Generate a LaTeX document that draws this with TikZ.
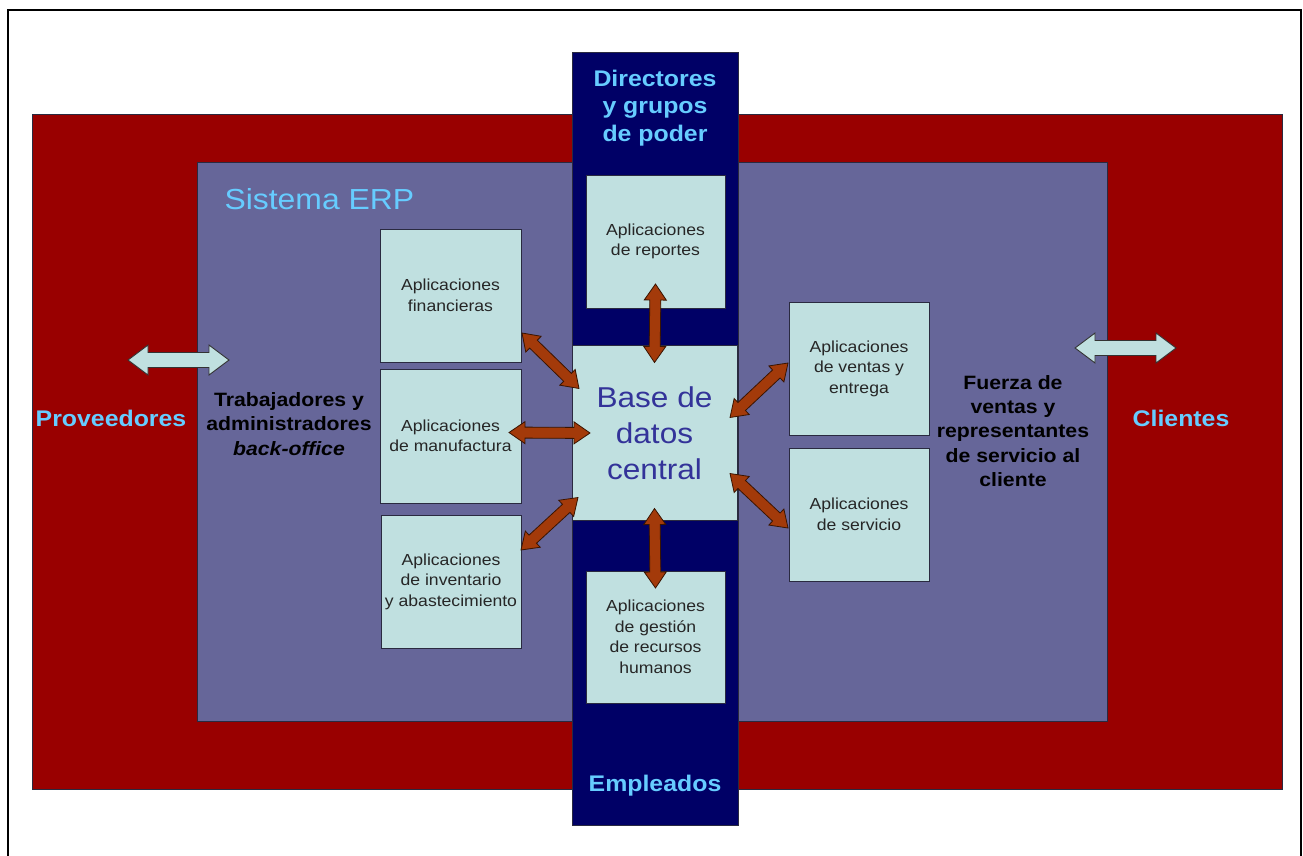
\documentclass[tikz,border=0pt]{standalone}
\usepackage{fontspec}
\newfontfamily\diagfont[FakeStretch=1.1]{Liberation Sans}
\usetikzlibrary{calc}

\definecolor{outerred}{HTML}{990000}
\definecolor{erpviolet}{HTML}{666699}
\definecolor{colnavy}{HTML}{000066}
\definecolor{appcyan}{HTML}{C0E0E0}
\definecolor{labelblue}{HTML}{66CCFF}
\definecolor{dbblue}{HTML}{333399}
\definecolor{arrowbrown}{HTML}{A33A0A}
\definecolor{arrowedge}{HTML}{3A1400}
\definecolor{boxedge}{HTML}{2A2A40}

% double-headed block arrow from #2 to #3; #4 half shaft, #5 half head, #6 head length
\newcommand\dblarrow[6]{%
  \path (#2); \pgfgetlastxy{\dax}{\day}%
  \path (#3); \pgfgetlastxy{\dbx}{\dby}%
  \pgfmathsetmacro\dang{atan2(\dby-\day,\dbx-\dax)}%
  \pgfmathsetmacro\dlen{veclen(\dbx-\dax,\dby-\day)}%
  \draw[#1, shift={(\dax,\day)}, rotate=\dang]
    (0,0) -- (#6,#5) -- (#6,#4) -- ({\dlen-#6},#4) -- ({\dlen-#6},#5)
    -- (\dlen,0) -- ({\dlen-#6},-#5) -- ({\dlen-#6},-#4) -- (#6,-#4)
    -- (#6,-#5) -- cycle;%
}

\tikzset{
  panel/.style={draw=boxedge, line width=0.8pt, inner sep=0pt, outer sep=0pt},
  appbox/.style={panel, fill=appcyan, minimum width=140pt, minimum height=133pt,
    align=center, text=black!85, font=\diagfont\fontsize{16}{20.5}\selectfont},
  grouplabel/.style={text=labelblue, align=center,
    font=\diagfont\bfseries\fontsize{22.6}{27.5}\selectfont},
  rolelabel/.style={text=black, align=center,
    font=\diagfont\bfseries\fontsize{19.3}{24.3}\selectfont},
  linkarrow/.style={fill=arrowbrown, draw=arrowedge, line width=0.8pt, line join=miter},
  outarrow/.style={fill=appcyan, draw=black!80, line width=0.9pt, line join=miter},
}

\begin{document}
\begin{tikzpicture}[x=1pt, y=-1pt]
\useasboundingbox (0,0) rectangle (1303,856);
\fill[white] (0,0) rectangle (1303,856);
% page frame
\draw[black, line width=1.2pt] (8,856) -- (8,10) -- (1301,10) -- (1301,856);

% nested areas
\node[panel, fill=outerred, minimum width=1250pt, minimum height=675pt] (outer) at (657,451.5) {};
\node[panel, fill=erpviolet, minimum width=910pt, minimum height=559pt] (erp) at (652,441.5) {};
\node[panel, fill=colnavy, minimum width=166pt, minimum height=773pt] (column) at (655,438.5) {};

\node[anchor=west, text=labelblue, font=\diagfont\fontsize{29}{33}\selectfont] (erptitle) at (221,199) {Sistema ERP};

% application boxes
\node[appbox, minimum width=139pt] (rep) at (655.5,241.5) {Aplicaciones\\de reportes};
\node[appbox, minimum width=141pt] (fin) at (450.5,295.5) {Aplicaciones\\financieras};
\node[appbox, minimum width=141pt, minimum height=134pt] (man) at (450.5,436) {Aplicaciones\\de manufactura};
\node[appbox] (inv) at (451,581.5) {Aplicaciones\\de inventario\\y abastecimiento};
\node[appbox, minimum width=139pt, minimum height=132pt] (rrhh) at (655.5,637) {Aplicaciones\\de gestión\\de recursos\\humanos};
\node[appbox] (ven) at (859,368.5) {Aplicaciones\\de ventas y\\entrega};
\node[appbox] (ser) at (859,514.5) {Aplicaciones\\de servicio};

\node[panel, fill=appcyan, minimum width=165pt, minimum height=175pt, align=center,
  text=dbblue, font=\diagfont\fontsize{28.7}{36}\selectfont] (base) at (654.5,433)
  {Base de\\datos\\central};

% group and role labels
\node[grouplabel] (dir) at (655,108) {Directores\\y grupos\\de poder};
\node[grouplabel] (emp) at (655,786) {Empleados};
\node[grouplabel] (prov) at (111,418) {Proveedores};
\node[grouplabel] (cli) at (1181,418) {Clientes};
\node[rolelabel] (back) at (289,424) {Trabajadores y\\administradores\\\textit{back-office}};
\node[rolelabel] (front) at (1013,431) {Fuerza de\\ventas y\\representantes\\de servicio al\\cliente};

% links between the applications and the central database
\dblarrow{linkarrow}{[yshift=24pt]rep.south}{[yshift=-17pt]base.north}{5.5}{11}{16}
\dblarrow{linkarrow}{[yshift=12pt]base.south}{[yshift=-17pt]rrhh.north}{5.5}{11}{16}
\dblarrow{linkarrow}{[shift={(1pt,29pt)}]fin.south east}{[shift={(7pt,-43pt)}]base.north west}{5.5}{11}{16}
\dblarrow{linkarrow}{[shift={(-12pt,3.5pt)}]man.east}{[xshift=18pt]base.west}{5.5}{11}{16}
\dblarrow{linkarrow}{[yshift=-35pt]inv.north east}{[shift={(6pt,23pt)}]base.south west}{5.5}{11}{16}
\dblarrow{linkarrow}{[shift={(-1pt,5.5pt)}]ven.west}{[shift={(-7pt,15.5pt)}]base.east}{5.5}{11}{16}
\dblarrow{linkarrow}{[shift={(-1pt,-13.5pt)}]ser.west}{[shift={(-7pt,-40.5pt)}]base.east}{5.5}{11}{16}

% exchanges with suppliers and customers
\coordinate (provL) at (128,360);
\coordinate (provR) at (229,360);
\coordinate (cliL) at (1075,348);
\coordinate (cliR) at (1176,348);
\dblarrow{outarrow}{provL}{provR}{7.5}{15}{20}
\dblarrow{outarrow}{cliL}{cliR}{7.5}{15}{20}
\end{tikzpicture}
\end{document}
